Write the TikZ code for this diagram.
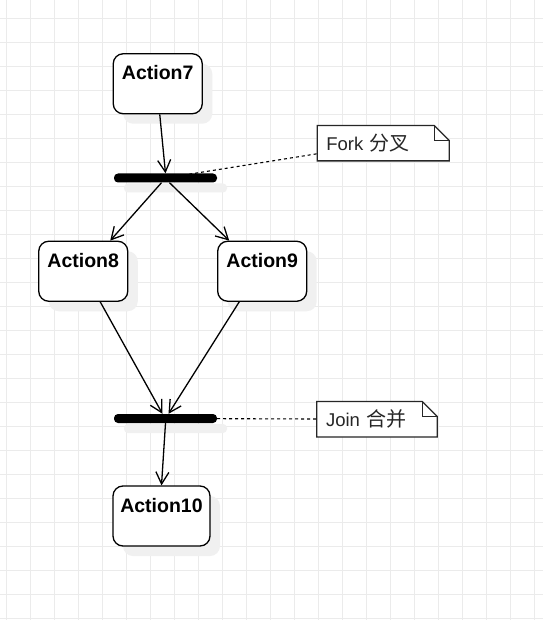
\documentclass[tikz,border=0pt]{standalone}
\usepackage{fontspec}
\setmainfont{Liberation Sans}
\newfontfamily\cjk{Noto Sans CJK SC}
\usetikzlibrary{arrows.meta,shadows}
\pgfdeclarelayer{gridlayer}
\pgfdeclarelayer{notelayer}
\pgfsetlayers{gridlayer,notelayer,main}
\begin{document}
\begin{tikzpicture}[x=1pt,y=-1pt,
  gridline/.style={draw=black!8, line width=0.9pt},
  shadowed/.style={drop shadow={shadow xshift=10pt, shadow yshift=-10pt, opacity=1, fill=black!6, draw=none}},
  action/.style={draw, line width=1.3pt, rounded corners=10pt, fill=white,
    font=\fontsize{19.5}{21}\selectfont\bfseries, minimum width=89pt,
    inner xsep=0pt, inner ysep=0pt, text height=26pt, text depth=34pt, shadowed},
  bar/.style={fill=black, rounded corners=4pt, minimum width=103pt, minimum height=9pt,
    inner sep=0pt, shadowed},
  note/.style={font=\fontsize{18.5}{20}\selectfont, text=black!85, minimum height=35pt,
    inner xsep=9pt, inner ysep=0pt, align=left},
  cjktext/.style={},
  noteline/.style={draw=black!85, line width=1.3pt},
  flow/.style={line width=1.3pt, -{Straight Barb[length=12pt,width=13pt]}},
  anchorline/.style={line width=1.1pt, dash pattern=on 3pt off 3pt}
]
\useasboundingbox (0,0) rectangle (543,620);
\begin{pgfonlayer}{gridlayer}
  \fill[white] (0,0) rectangle (543,620);
  \foreach \x in {6,30,...,542} \draw[gridline] (\x,0) -- (\x,620);
  \foreach \y in {18,42,...,619} \draw[gridline] (0,\y) -- (543,\y);
\end{pgfonlayer}

\node[action] (a7) at (157.75,83.75) {Action7};
\node[bar] (fork) at (165.5,178) {};
\node[action] (a8) at (83.25,271.25) {Action8};
\node[action] (a9) at (262.2,271.25) {Action9};
\node[bar] (join) at (165.5,418.5) {};
\node[action, minimum width=97pt] (a10) at (161.5,516) {Action10};

\node[note, text width=113.7pt] (fn) at (383.2,143.2) {Fork {\cjk\fontsize{20}{20}\selectfont 分叉}};
\node[note, text width=102pt] (jn) at (377,419.2) {Join {\cjk\fontsize{20}{20}\selectfont 合并}};

\begin{pgfonlayer}{notelayer}
\foreach \n in {fn,jn}{
  \draw[noteline, fill=white] (\n.north west) -- ([xshift=-15pt]\n.north east)
    -- ([yshift=-15pt]\n.north east) -- (\n.south east) -- (\n.south west) -- cycle;
  \draw[noteline] ([xshift=-15pt]\n.north east) -- ([xshift=-15pt,yshift=-15pt]\n.north east)
    -- ([yshift=-15pt]\n.north east);
}
\end{pgfonlayer}

\draw[flow] ([xshift=2pt]a7.south) -- (fork.north);
\draw[flow] ([xshift=-4pt]fork.south) -- ([xshift=27pt]a8.north);
\draw[flow] ([xshift=4pt]fork.south) -- ([xshift=-33pt]a9.north);
\draw[flow] ([xshift=17pt]a8.south) -- ([xshift=-3pt]join.north);
\draw[flow] ([xshift=-23pt]a9.south) -- ([xshift=3pt]join.north);
\draw[flow] (join.south) -- (a10.north);

\draw[anchorline] (fork.center) -- (fn);
\draw[anchorline] (join) -- (jn);
\end{tikzpicture}
\end{document}
